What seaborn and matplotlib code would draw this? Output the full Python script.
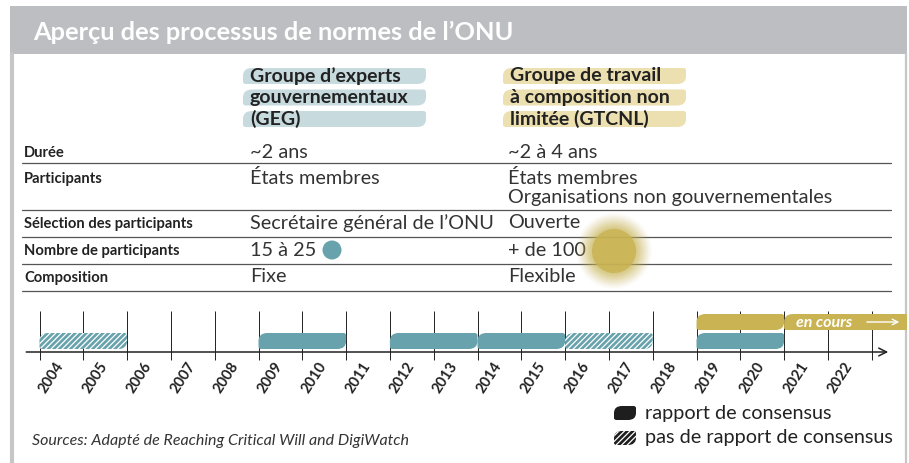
import numpy as np
import matplotlib
matplotlib.use("Agg")
import matplotlib.pyplot as plt
import seaborn as sns
from matplotlib.path import Path
from matplotlib.patches import PathPatch, Rectangle, Circle

sns.set_theme(style="white")
plt.rcParams['font.family'] = ['Lato', 'DejaVu Sans']
plt.rcParams['hatch.linewidth'] = 0.9

# ---- data ----
title = "Aperçu des processus de normes de l’ONU"
geg_name = ["Groupe d’experts", "gouvernementaux", "(GEG)"]
oewg_name = ["Groupe de travail", "à composition non", "limitée (GTCNL)"]
row_labels = ["Durée", "Participants", "Sélection des participants",
              "Nombre de participants", "Composition"]
geg_values = ["~2 ans", "États membres", "Secrétaire général de l’ONU", "15 à 25", "Fixe"]
oewg_values = ["~2 à 4 ans", "États membres\nOrganisations non gouvernementales",
               "Ouverte", "+ de 100", "Flexible"]

years = list(range(2004, 2023))
geg_start = [2004, 2009, 2012, 2014, 2016, 2019]
geg_end = [2006, 2011, 2014, 2016, 2018, 2021]
geg_consensus = [False, True, True, True, False, True]
oewg_start = [2019, 2021]
oewg_end = [2021, 2024]          # second one still running
oewg_ongoing = [False, True]

legend_labels = ["rapport de consensus", "pas de rapport de consensus"]
source = "Sources: Adapté de Reaching Critical Will and DigiWatch"

# ---- colours ----
BLUE = "#68a2ac"
GOLD = "#c9b352"
PILL_BLUE = "#c7dade"
PILL_GOLD = "#ecdfb0"
HEADER = "#bdbec2"
TXT = "#222222"
LINE = "#555555"


def leaf(x0, x1, y0, y1, rx, ry, sx=None, sy=None):
    # bar with rounded top-left / bottom-right corners (y0 = top in pixel terms)
    sx = rx * 0.3 if sx is None else sx
    sy = ry * 0.3 if sy is None else sy
    verts = [(x0, y1 - sy), (x0, y0 + ry), (x0, y0), (x0 + rx, y0),
             (x1 - sx, y0), (x1, y0), (x1, y0 + sy),
             (x1, y1 - ry), (x1, y1), (x1 - rx, y1),
             (x0 + sx, y1), (x0, y1), (x0, y1 - sy), (x0, y1 - sy)]
    codes = [Path.MOVETO, Path.LINETO, Path.CURVE3, Path.CURVE3,
             Path.LINETO, Path.CURVE3, Path.CURVE3,
             Path.LINETO, Path.CURVE3, Path.CURVE3,
             Path.LINETO, Path.CURVE3, Path.CURVE3, Path.CLOSEPOLY]
    return Path(verts, codes)


fig = plt.figure(figsize=(9.09, 4.63), dpi=100)
ax = fig.add_axes([0, 0, 1, 1])
ax.set_xlim(0, 909)
ax.set_ylim(463, 0)
ax.axis('off')

# frame + header
ax.add_patch(Rectangle((10, 6), 897, 48, color=HEADER, lw=0))
ax.plot([11.5, 11.5], [54, 463], color="#c6c6c6", lw=3)
ax.plot([906, 906], [54, 463], color="#c6c6c6", lw=1.6)
ax.text(33, 32, title, color="white", fontsize=18.3, fontweight="bold", va="center")

# column headers with pill backgrounds
for names, x0, pill in [(geg_name, 243, PILL_BLUE), (oewg_name, 503, PILL_GOLD)]:
    for i, name in enumerate(names):
        yc = 76 + i * 21.5
        ax.add_patch(PathPatch(leaf(x0, x0 + 183, yc - 8, yc + 8, 9, 8),
                               facecolor=pill, lw=0))
        ax.text(x0 + 7, yc, name, fontsize=14, fontweight="bold", color=TXT, va="center")

# table
row_y = [153, 179, 224, 251, 278]
sep_y = [163, 210, 237, 264, 291]
for lab, gv, ov, y, s in zip(row_labels, geg_values, oewg_values, row_y, sep_y):
    ax.text(24, y, lab, fontsize=10.6, fontweight="bold", color=TXT, va="center")
    for x, val in [(250, gv), (508, ov)]:
        for j, line in enumerate(val.split("\n")):
            ax.text(x, y - 1 + j * 19, line, fontsize=14.3, color="#333333", va="center")
    ax.plot([22, 891], [s, s], color=LINE, lw=0.9)

# participant count bubbles
ax.add_patch(Circle((332, 250), 9.5, color=BLUE, lw=0, zorder=3))
for r, a in zip(np.linspace(38, 23, 14), np.linspace(0.03, 0.12, 14)):
    ax.add_patch(Circle((614, 251), r, color=GOLD, lw=0, alpha=a, zorder=3))
ax.add_patch(Circle((614, 251), 22, color=GOLD, lw=0, alpha=0.85, zorder=3))

# ---- timeline ----
PX = 43.8  # pixels per year
tl = fig.add_axes([22 / 909, (463 - 400) / 463, 885 / 909, 100 / 463])
tl.set_xlim(2004 - 17.5 / PX, 2004 + 867.5 / PX)
tl.set_ylim(400, 300)
tl.patch.set_alpha(0)
tl.axis('off')

tl.vlines(years + [2023], 311, 360, color=TXT, lw=0.7, zorder=1)
tl.annotate("", xy=(2004 + (891 - 39.5) / PX, 352), xytext=(2004 - 16 / PX, 352),
            arrowprops=dict(arrowstyle="->", lw=1.1, color=TXT, mutation_scale=14))
for yr in years:
    tl.text(yr + 27 / PX, 360, str(yr), rotation=57, ha="right", va="top",
            fontsize=10.5, fontweight="bold", color=TXT)

for s, e, ok in zip(geg_start, geg_end, geg_consensus):
    p = leaf(s, e, 333, 349, 9 / PX, 8)
    if ok:
        tl.add_patch(PathPatch(p, facecolor=BLUE, lw=0, zorder=3))
    else:
        tl.add_patch(PathPatch(p, facecolor=BLUE, edgecolor="white", hatch="//////",
                               lw=0, zorder=3))

for s, e, on in zip(oewg_start, oewg_end, oewg_ongoing):
    tl.add_patch(PathPatch(leaf(s, e, 314, 330, 9 / PX, 8), facecolor=GOLD, lw=0, zorder=3))
    if on:
        tl.text(s + 12 / PX, 322.5, "en cours", color="white", fontsize=11.5,
                fontweight="bold", style="italic", va="center", zorder=4)
        tl.annotate("", xy=(s + 118 / PX, 322), xytext=(s + 80 / PX, 322), zorder=4,
                    arrowprops=dict(arrowstyle="->", lw=1, color="white", mutation_scale=10))

# legend
ax.add_patch(PathPatch(leaf(614, 636, 406, 420, 8, 7), facecolor="#1e1e1e", lw=0))
ax.add_patch(PathPatch(leaf(614, 636, 431, 445, 8, 7), facecolor="#1e1e1e",
                       edgecolor="white", hatch="//////", lw=0))
ax.text(645, 413, legend_labels[0], fontsize=14.3, color=TXT, va="center")
ax.text(645, 438, legend_labels[1], fontsize=14.3, color=TXT, va="center")

ax.text(32, 441, source, fontsize=11.5, style="italic", color="#333333", va="center")

fig.savefig("out.png", dpi=100)
